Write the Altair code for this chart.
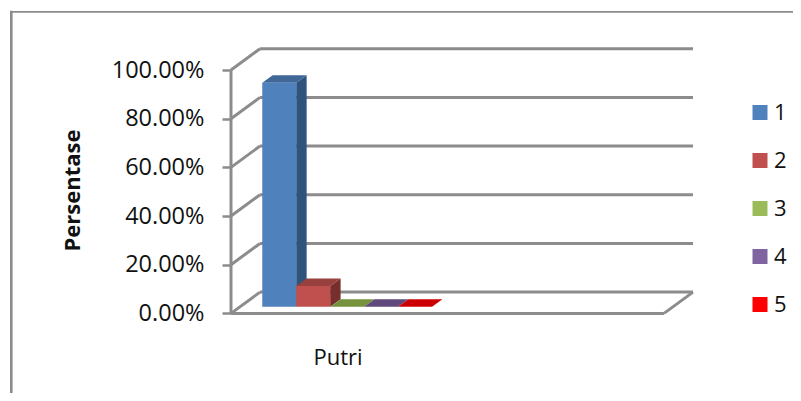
import altair as alt
import pandas as pd

series = ["1", "2", "3", "4", "5"]
values = [0.92, 0.085, 0.0, 0.0, 0.0]
front_colors = ["#4F81BD", "#C0504D", "#9BBB59", "#8064A2", "#FF0000"]
top_colors = ["#3F6797", "#98403D", "#76923C", "#604A7B", "#CC0000"]
side_colors = ["#30537D", "#772F2D", "#5E7530", "#4C3B62", "#990000"]
ticks = [0.0, 0.2, 0.4, 0.6, 0.8, 1.0]
category = "Putri"
y_title = "Persentase"

FONT = "Open Sans"
GREY = "#8C8C8C"

# oblique projection of the 3-D box, in axis units (one unit of x = one bar)
PX_X, PX_Y = 33.95, 243.4          # pixels per x unit / per 100%
WALL_DX, WALL_DY = 29 / PX_X, 21.3 / PX_Y
FLOOR_W = 433 / PX_X
BAR_START = 0.656
BAR_D0, BAR_D1 = 0.31, 0.67
X_DOM = [-223 / PX_X, 562 / PX_X]
Y_DOM = [-79.6 / PX_Y, 305.4 / PX_Y]


def pt(x, v, d):
    return x + d * WALL_DX, v + d * WALL_DY


fronts, sides, tops = [], [], []
for i, (s, v) in enumerate(zip(series, values)):
    x0, x1 = BAR_START + i, BAR_START + i + 1
    fx0, base = pt(x0, 0, BAR_D0)
    fx1, _ = pt(x1, 0, BAR_D0)
    _, ftop = pt(x0, v, BAR_D0)
    fronts.append(dict(series=s, x=fx0, x2=fx1, y=base, y2=ftop))

    bx1, bbase = pt(x1, 0, BAR_D1)
    _, btop = pt(x1, v, BAR_D1)
    sides += [
        dict(series=s, c=side_colors[i], x=fx1, lo=base, hi=ftop),
        dict(series=s, c=side_colors[i], x=bx1, lo=bbase, hi=btop),
    ]
    bx0, _ = pt(x0, v, BAR_D1)
    tops += [
        dict(series=s, c=top_colors[i], x=fx0, lo=ftop, hi=ftop),
        dict(series=s, c=top_colors[i], x=bx0, lo=ftop, hi=btop),
        dict(series=s, c=top_colors[i], x=fx1, lo=ftop, hi=btop),
        dict(series=s, c=top_colors[i], x=bx1, lo=btop, hi=btop),
    ]

wall = []
for t in ticks:
    xa, ya = pt(0, t, 0)
    xb, yb = pt(0, t, 1)
    xc, yc = pt(FLOOR_W, t, 1)
    wall.append(dict(x=xa, x2=xb, y=ya, y2=yb))
    wall.append(dict(x=xb, x2=xc, y=yb, y2=yc))
xr, yr = pt(FLOOR_W, 0, 0)
xs, ys = pt(FLOOR_W, 0, 1)
wall.append(dict(x=xr, x2=xs, y=yr, y2=ys))
wall.append(dict(x=0, x2=FLOOR_W, y=0, y2=0))
wall.append(dict(x=0, x2=0, y=0, y2=1))

X_SCALE = alt.Scale(domain=X_DOM, nice=False, zero=False)
Y_SCALE = alt.Scale(domain=Y_DOM, nice=False, zero=False)
X = alt.X("x:Q", scale=X_SCALE, axis=None)
Y_PLAIN = alt.Y("y:Q", scale=Y_SCALE, axis=None)
Y_AXIS = alt.Y(
    "y:Q",
    scale=Y_SCALE,
    axis=alt.Axis(
        values=ticks,
        format=".2%",
        offset=-223,
        domain=False,
        grid=False,
        tickColor=GREY,
        tickWidth=2.5,
        tickSize=9,
        labelPadding=18,
        labelFont=FONT,
        labelFontSize=23.5,
        labelColor="#111111",
        title=y_title,
        titleFont=FONT,
        titleFontSize=22,
        titleFontWeight="bold",
        titleColor="#111111",
        titleAngle=-90,
        titleAnchor="middle",
        titleX=-147,
        titleY=182,
    ),
)

wall_layer = (
    alt.Chart(pd.DataFrame(wall))
    .mark_rule(color=GREY, strokeWidth=3)
    .encode(x=X, x2="x2:Q", y=Y_AXIS, y2="y2:Q")
)

side_layer = (
    alt.Chart(pd.DataFrame(sides))
    .mark_area(interpolate="linear", opacity=1)
    .encode(
        x=X,
        y=alt.Y("lo:Q", scale=Y_SCALE, axis=None, stack=None),
        y2="hi:Q",
        detail="series:N",
        fill=alt.Fill("c:N", scale=None),
    )
)
top_layer = (
    alt.Chart(pd.DataFrame(tops))
    .mark_area(interpolate="linear", opacity=1)
    .encode(
        x=X,
        y=alt.Y("lo:Q", scale=Y_SCALE, axis=None, stack=None),
        y2="hi:Q",
        detail="series:N",
        fill=alt.Fill("c:N", scale=None),
    )
)
front_layer = (
    alt.Chart(pd.DataFrame(fronts))
    .mark_rect()
    .encode(
        x=X,
        x2="x2:Q",
        y=Y_PLAIN,
        y2="y2:Q",
        color=alt.Color(
            "series:N",
            scale=alt.Scale(domain=series, range=front_colors),
            legend=alt.Legend(
                title=None,
                orient="none",
                legendX=741,
                legendY=94.5,
                symbolType="square",
                symbolSize=225,
                symbolStrokeWidth=0,
                symbolOpacity=1,
                labelFont=FONT,
                labelFontSize=22,
                labelColor="#111111",
                labelOffset=3,
                clipHeight=20,
                rowPadding=26,
                padding=0,
            ),
        ),
    )
)

cat_layer = (
    alt.Chart(pd.DataFrame({"x": [107 / PX_X], "y": [-44.5 / PX_Y], "t": [category]}))
    .mark_text(font=FONT, fontSize=22, color="#111111", align="center", baseline="middle")
    .encode(x=X, y=Y_PLAIN, text="t:N")
)

frame_left = alt.Chart(pd.DataFrame({"a": [0]})).mark_rule(color=GREY, strokeWidth=2.6).encode(
    x=alt.value(3.3), y=alt.value(2.8), y2=alt.value(385)
)
frame_top = alt.Chart(pd.DataFrame({"a": [0]})).mark_rule(color=GREY, strokeWidth=1.8).encode(
    x=alt.value(2), x2=alt.value(785), y=alt.value(3.8)
)

chart = (
    alt.layer(frame_left, frame_top, wall_layer, side_layer, top_layer, front_layer, cat_layer)
    .resolve_scale(fill="independent")
    .resolve_axis(y="independent")
    .properties(width=785, height=385, padding=0, autosize=alt.AutoSizeParams(type="none"), background="white")
    .configure_view(stroke=None)
)

chart.save("out.html", embed_options={"renderer": "svg", "actions": False})
